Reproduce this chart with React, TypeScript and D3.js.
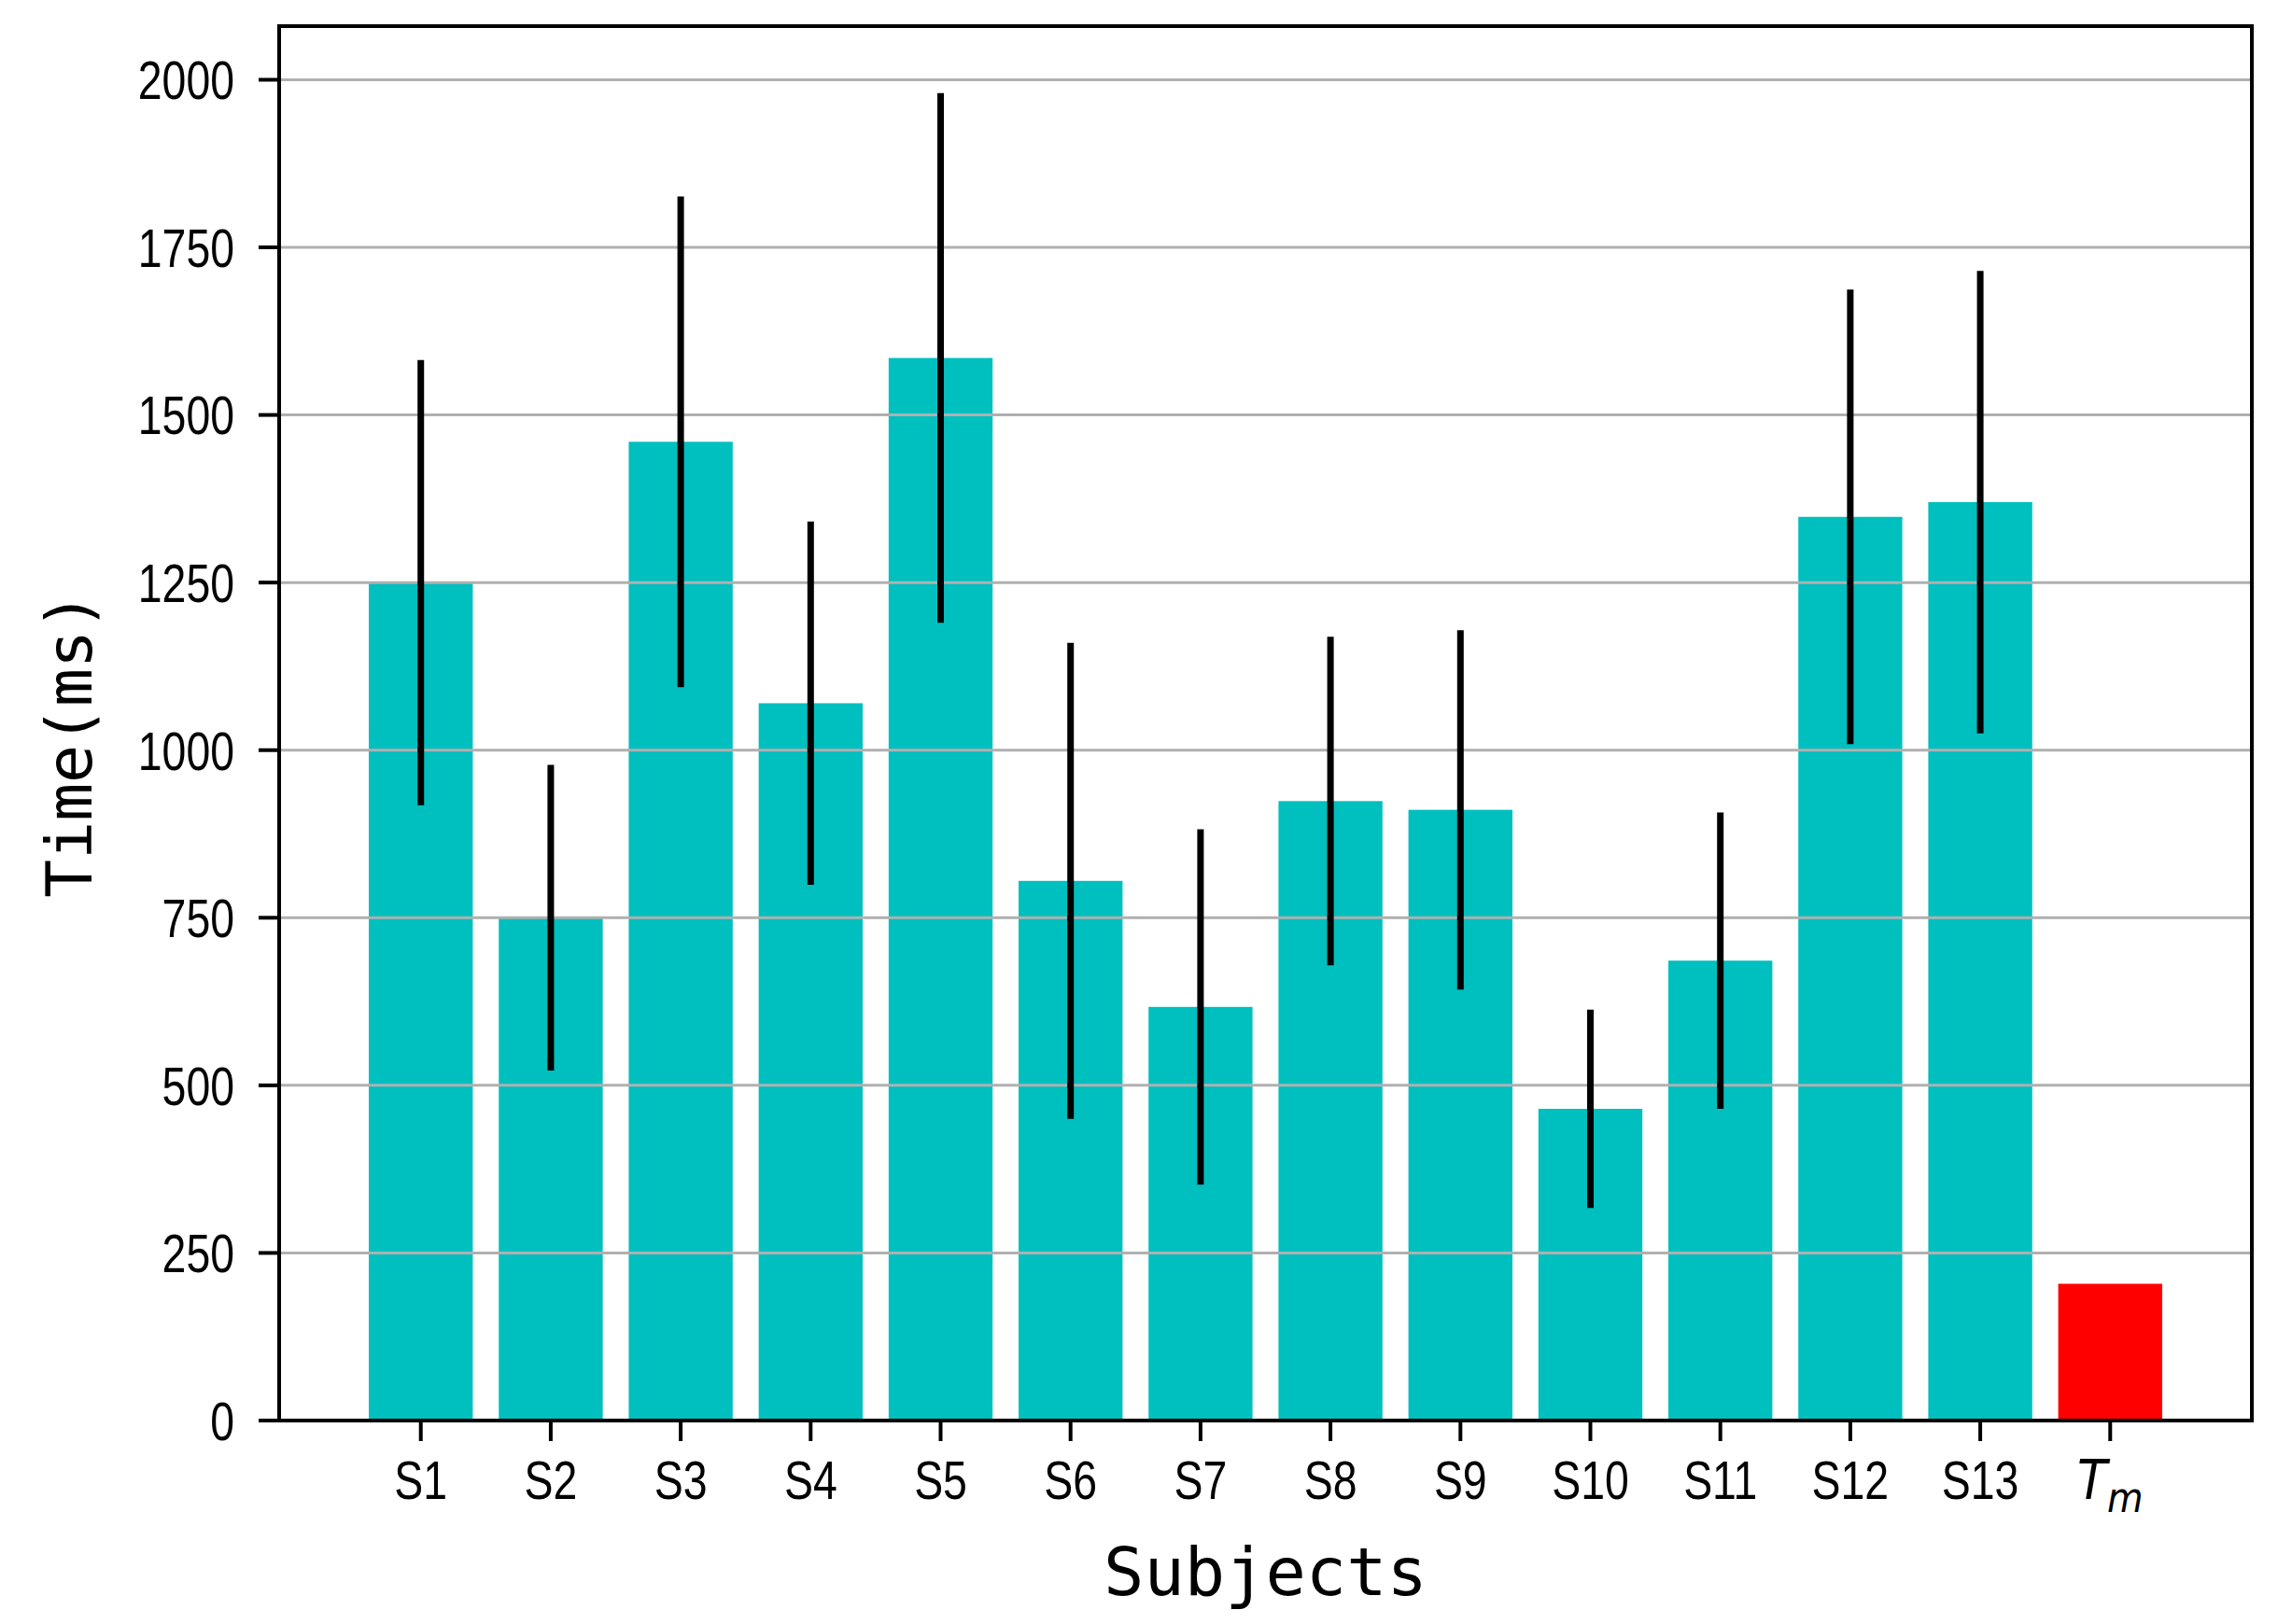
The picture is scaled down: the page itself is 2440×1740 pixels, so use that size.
import * as d3 from 'd3';

const subjects = ['S1', 'S2', 'S3', 'S4', 'S5', 'S6', 'S7', 'S8', 'S9', 'S10', 'S11', 'S12', 'S13', 'Tm'];
const meanTimes = [1250, 750, 1460, 1070, 1585, 805, 617, 924, 911, 465, 686, 1348, 1370, 204];
const errTimes = [332, 228, 366, 271, 395, 355, 265, 245, 268, 148, 221, 339, 345, null];
const yTicks = [0, 250, 500, 750, 1000, 1250, 1500, 1750, 2000];

const W = 2440;
const H = 1740;
const left = 299;
const right = 2412;
const top = 28;
const bottom = 1522;

// narrow sans look: Liberation Sans squeezed horizontally
const tickFont = "'Liberation Sans', Arial, sans-serif";
const squeeze = 0.8;
const labelFont = "'DejaVu Sans Mono', 'Liberation Mono', monospace";

export default function App(): JSX.Element {
  const x = d3.scaleLinear().domain([-1.09, subjects.length - 1 + 1.09]).range([left, right]);
  const y = d3.scaleLinear().domain([0, 2080]).range([bottom, top]);
  const barW = x(0.8) - x(0);

  return (
    <svg
      xmlns="http://www.w3.org/2000/svg"
      width={W}
      height={H}
      style={{ position: 'absolute', left: 0, top: 0, background: '#fff' }}
    >
      <rect x={0} y={0} width={W} height={H} fill="#fff" />

      {/* bars */}
      {subjects.map((s, i) => (
        <rect
          key={s}
          x={x(i) - barW / 2}
          y={y(meanTimes[i])}
          width={barW}
          height={y(0) - y(meanTimes[i])}
          fill={s === 'Tm' ? '#ff0000' : '#00bfbf'}
        />
      ))}

      {/* grid */}
      {yTicks.map(t => (
        <line key={t} x1={left} x2={right} y1={y(t)} y2={y(t)} stroke="#b0b0b0" strokeWidth={3} />
      ))}

      {/* error bars */}
      {subjects.map((s, i) =>
        errTimes[i] == null ? null : (
          <line
            key={s}
            x1={x(i)}
            x2={x(i)}
            y1={y(meanTimes[i] + (errTimes[i] as number))}
            y2={y(meanTimes[i] - (errTimes[i] as number))}
            stroke="#000"
            strokeWidth={7}
          />
        )
      )}

      {/* frame */}
      <rect x={left} y={top} width={right - left} height={bottom - top} fill="none" stroke="#000" strokeWidth={4} />

      {/* y axis */}
      {yTicks.map(t => (
        <g key={t}>
          <line x1={left - 22} x2={left} y1={y(t)} y2={y(t)} stroke="#000" strokeWidth={4} />
          <text
            transform={`translate(${left - 48},${y(t)}) scale(${squeeze},1)`}
            dy="0.36em"
            textAnchor="end"
            fontFamily={tickFont}
            fontSize={58}
            fill="#000"
          >
            {t}
          </text>
        </g>
      ))}

      {/* x axis */}
      {subjects.map((s, i) => (
        <g key={s}>
          <line x1={x(i)} x2={x(i)} y1={bottom} y2={bottom + 22} stroke="#000" strokeWidth={4} />
          {s === 'Tm' ? (
            <text
              transform={`translate(${x(i)},1606) scale(0.9,1)`}
              textAnchor="middle"
              fontFamily="'DejaVu Sans', sans-serif"
              fontStyle="italic"
              fill="#000"
            >
              <tspan fontSize={58}>T</tspan>
              <tspan fontSize={44} dy={14}>m</tspan>
            </text>
          ) : (
            <text
              transform={`translate(${x(i)},1606) scale(${squeeze},1)`}
              textAnchor="middle"
              fontFamily={tickFont}
              fontSize={58}
              fill="#000"
            >
              {s}
            </text>
          )}
        </g>
      ))}

      {/* axis labels */}
      <text x={(left + right) / 2} y={1709} textAnchor="middle" fontFamily={labelFont} fontSize={72} fill="#000">
        Subjects
      </text>
      <text
        transform={`translate(98,798) rotate(-90)`}
        textAnchor="middle"
        fontFamily={labelFont}
        fontSize={68}
        fill="#000"
      >
        Time(ms)
      </text>
    </svg>
  );
}
